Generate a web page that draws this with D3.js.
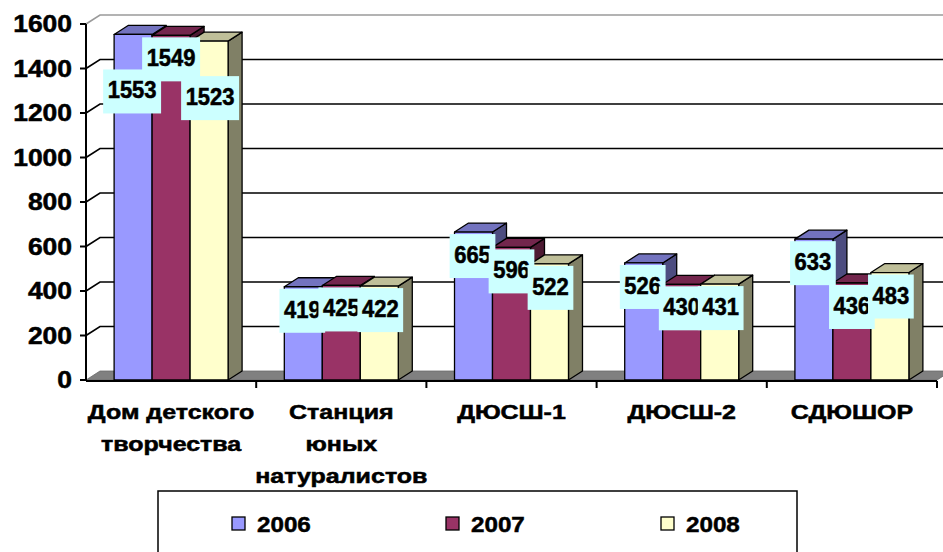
<!DOCTYPE html>
<html>
<head>
<meta charset="utf-8">
<script src="https://cdn.jsdelivr.net/npm/d3@7"></script>
<style>
  html, body { margin: 0; padding: 0; background: #fff; }
  svg { display: block; }
  text { font-family: Arial, "Liberation Sans", sans-serif; font-weight: bold; fill: #000; stroke: #000; stroke-width: 0.5px; }
</style>
</head>
<body>
<svg id="chart" width="943" height="552"></svg>
<script>
// ---- data ----
const categories = ["Дом детского\nтворчества", "Станция\nюных\nнатуралистов", "ДЮСШ-1", "ДЮСШ-2", "СДЮШОР"];
const seriesNames = ["2006", "2007", "2008"];
const values2006 = [1553, 419, 665, 526, 633];
const values2007 = [1549, 425, 596, 430, 436];
const values2008 = [1523, 422, 522, 431, 483];
const yTicks = [0, 200, 400, 600, 800, 1000, 1200, 1400, 1600];

const seriesValues = [values2006, values2007, values2008];
const frontColors = ["#9999FF", "#993366", "#FFFFCC"];
const topColors = ["#7373BF", "#73264D", "#BFBF99"];
const sideColors = ["#4D4D80", "#4D1A33", "#808066"];

(function () {
const svg = d3.select("#chart");
const W = 943;
const pLeft = 86, pRight = 937, pBottom = 380, pTop = 24;
const DX = 14, DY = 9; // 3D depth offset

const y = d3.scaleLinear().domain([0, 1600]).range([pBottom, pTop]);
const x = d3.scaleBand().domain(categories).range([pLeft, pRight]).paddingInner(0).paddingOuter(0);
const xs = d3.scaleBand().domain(seriesNames).range([0, x.bandwidth()]).paddingInner(0).paddingOuter(0.74);

// ---- back wall gridlines ----
const grid = svg.append("g");
yTicks.forEach(t => {
  if (t === 0) return;
  const yy = y(t);
  const col = t === 1600 ? "#9a9a9a" : "#000";
  grid.append("path")
    .attr("d", `M${pLeft},${yy} L${pLeft + DX},${yy - DY} L${W + 10},${yy - DY}`)
    .attr("fill", "none").attr("stroke", col).attr("stroke-width", 1.6);
});

// ---- floor ----
svg.append("path")
  .attr("d", `M${pLeft},${pBottom} L${pRight},${pBottom} L${pRight + DX},${pBottom - DY} L${pLeft + DX},${pBottom - DY} Z`)
  .attr("fill", "#808080").attr("stroke", "#6a6a6a").attr("stroke-width", 0.8);

// ---- bars ----
const bars = svg.append("g");
categories.forEach((c, ci) => {
  seriesNames.forEach((s, si) => {
    const v = seriesValues[si][ci];
    const x0 = x(c) + xs(s), w = xs.bandwidth();
    const yt = y(v), yb = y(0);
    const g = bars.append("g").attr("stroke", "#000").attr("stroke-width", 1.3).attr("stroke-linejoin", "round");
    g.append("path")
      .attr("d", `M${x0 + w},${yb} L${x0 + w + DX},${yb - DY} L${x0 + w + DX},${yt - DY} L${x0 + w},${yt} Z`)
      .attr("fill", sideColors[si]);
    g.append("path")
      .attr("d", `M${x0},${yt} L${x0 + DX},${yt - DY} L${x0 + w + DX},${yt - DY} L${x0 + w},${yt} Z`)
      .attr("fill", topColors[si]);
    g.append("rect")
      .attr("x", x0).attr("y", yt).attr("width", w).attr("height", yb - yt)
      .attr("fill", frontColors[si]);
  });
});

// ---- axes ----
const axes = svg.append("g").attr("stroke", "#000").attr("stroke-width", 2);
axes.append("line").attr("x1", pLeft).attr("x2", pLeft).attr("y1", pTop).attr("y2", pBottom + 1);
axes.append("line").attr("x1", pLeft).attr("x2", pRight).attr("y1", pBottom + 1).attr("y2", pBottom + 1);
yTicks.forEach(t => {
  axes.append("line").attr("x1", pLeft - 6).attr("x2", pLeft).attr("y1", y(t)).attr("y2", y(t));
});
categories.forEach(c => {
  const xx = x(c) + x.bandwidth();
  axes.append("line").attr("x1", xx).attr("x2", xx).attr("y1", pBottom + 1).attr("y2", pBottom + 8);
});

yTicks.forEach(t => {
  svg.append("text")
    .attr("transform", `translate(72,${y(t)}) scale(1.15,1)`)
    .attr("text-anchor", "end").attr("dy", "0.36em")
    .style("font-size", "23px").text(t);
});

categories.forEach(c => {
  const lines = c.split("\n");
  const cx = x(c) + x.bandwidth() / 2;
  lines.forEach((ln, li) => {
    svg.append("text")
      .attr("transform", `translate(${cx},${419 + li * 32}) scale(1.25,1)`)
      .attr("text-anchor", "middle")
      .style("font-size", "20px").text(ln);
  });
});

// ---- data labels ----
const labels = svg.append("g");
const BOXH = 44;
categories.forEach((c, ci) => {
  const items = seriesNames.map((s, si) => {
    const v = seriesValues[si][ci];
    const cx = x(c) + xs(s) + xs.bandwidth() / 2 + (si - 1) * 1;
    const t = labels.append("text").attr("text-anchor", "middle").style("font-size", "22px").text(v);
    const tw = t.node().getComputedTextLength();
    t.remove();
    return { v, cx, top: y(v) + 2, w: tw + 9, shifted: false };
  });
  const step = xs.step();
  const crowd = d3.max(items, d => d.w) - step > 10;
  items.forEach((d, i) => {
    if (crowd && i % 2 === 0) { d.top += 33; d.shifted = true; }
  });
  const ordered = items.filter(d => !d.shifted).concat(items.filter(d => d.shifted));
  ordered.forEach(d => {
    labels.append("rect")
      .attr("x", d.cx - d.w / 2).attr("y", d.top)
      .attr("width", d.w).attr("height", BOXH)
      .attr("fill", "#CCFFFF");
    labels.append("text")
      .attr("transform", `translate(${d.cx},${d.top + 29}) scale(1,1.05)`)
      .attr("text-anchor", "middle").style("font-size", "22px").text(d.v);
  });
});

// ---- legend ----
const leg = svg.append("g");
leg.append("rect").attr("x", 158).attr("y", 491).attr("width", 639).attr("height", 80)
  .attr("fill", "#fff").attr("stroke", "#000").attr("stroke-width", 1.5);
const legX = d3.scaleOrdinal().domain(seriesNames).range([232, 446, 661]);
seriesNames.forEach((s, si) => {
  leg.append("rect").attr("x", legX(s)).attr("y", 517).attr("width", 13).attr("height", 13)
    .attr("fill", frontColors[si]).attr("stroke", "#000").attr("stroke-width", 1.3);
  leg.append("text")
    .attr("transform", `translate(${legX(s) + 25},532) scale(1.1,1)`)
    .style("font-size", "22px").text(s);
});
})();
</script>
</body>
</html>
